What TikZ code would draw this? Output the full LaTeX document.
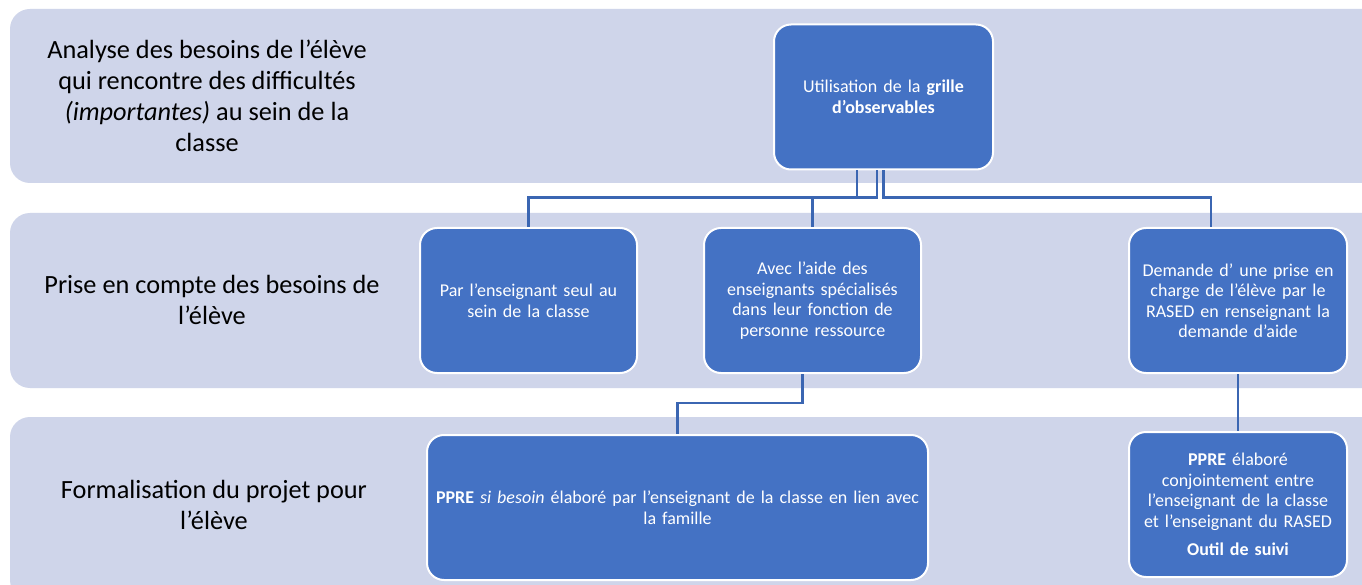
\documentclass[tikz,border=0pt]{standalone}
\usepackage{fontspec}
\setmainfont{Carlito}
\usepackage{xcolor}
\usetikzlibrary{positioning}
\definecolor{bandfill}{HTML}{CFD5EA}
\definecolor{boxfill}{HTML}{4472C4}
\definecolor{linkcol}{HTML}{3B66B2}
\begin{document}
\begin{tikzpicture}[x=1pt, y=-1pt,
  band/.style={fill=bandfill, rounded corners=20pt},
  lab/.style={align=center, font=\fontsize{26.3}{31}\selectfont},
  box/.style={draw=white, line width=2pt, fill=boxfill, rounded corners=17pt, text=white, align=center, text width=208pt, minimum height=145pt, font=\fontsize{18}{20.5}\selectfont},
  conn/.style={draw=linkcol, line width=2.2pt}]
\clip (0,0) rectangle (1362,585);
\fill[white] (0,0) rectangle (1362,585);
\fill[band] (10,9) rectangle (1390,183);
\fill[band] (10,213) rectangle (1390,388);
\fill[band] (10,417) rectangle (1390,600);
\node[lab] (l1) at (207,96) {Analyse des besoins de l’élève\\qui rencontre des difficultés\\\textit{(importantes)} au sein de la\\classe};
\node[lab] (l2) at (212,300) {Prise en compte des besoins de\\l’élève};
\node[lab] (l3) at (214,505) {Formalisation du projet pour\\l’élève};
\node[box, minimum width=219pt] (util) at (883.5,97) {Utilisation de la \textbf{grille}\\\textbf{d’observables}};
\node[box, minimum width=217pt] (par) at (528.5,300.5) {Par l’enseignant seul au\\sein de la classe};
\node[box, minimum width=217pt] (avec) at (812.5,300.5) {Avec l’aide des\\enseignants spécialisés\\dans leur fonction de\\personne ressource};
\node[box, minimum width=218pt] (dem) at (1238,300.5) {Demande d’ une prise en\\charge de l’élève par le\\RASED en renseignant la\\demande d’aide};
\node[box, minimum width=501pt, text width=492pt] (ppre) at (677.5,507.5) {\textbf{PPRE} \textit{si besoin} élaboré par l’enseignant de la classe en lien avec\\la famille};
\node[box, minimum width=218pt] (ppreb) at (1238,504.5) {\textbf{PPRE} élaboré\\conjointement entre\\l’enseignant de la classe\\et l’enseignant du RASED\\[8pt]\textbf{Outil de suivi}};
\draw[conn] ([xshift=-26.5pt]util.south) -- ++(0,27) -| (par.north);
\draw[conn] ([xshift=-6.5pt]util.south) -- ++(0,27) -| (avec.north);
\draw[conn] (util.south) -- ++(0,27) -| ([xshift=-27pt]dem.north);
\draw[conn] ([xshift=-10pt]avec.south) -- ++(0,29) -| (ppre.north);
\draw[conn] (dem.south) -- (ppreb.north);
\end{tikzpicture}
\end{document}
